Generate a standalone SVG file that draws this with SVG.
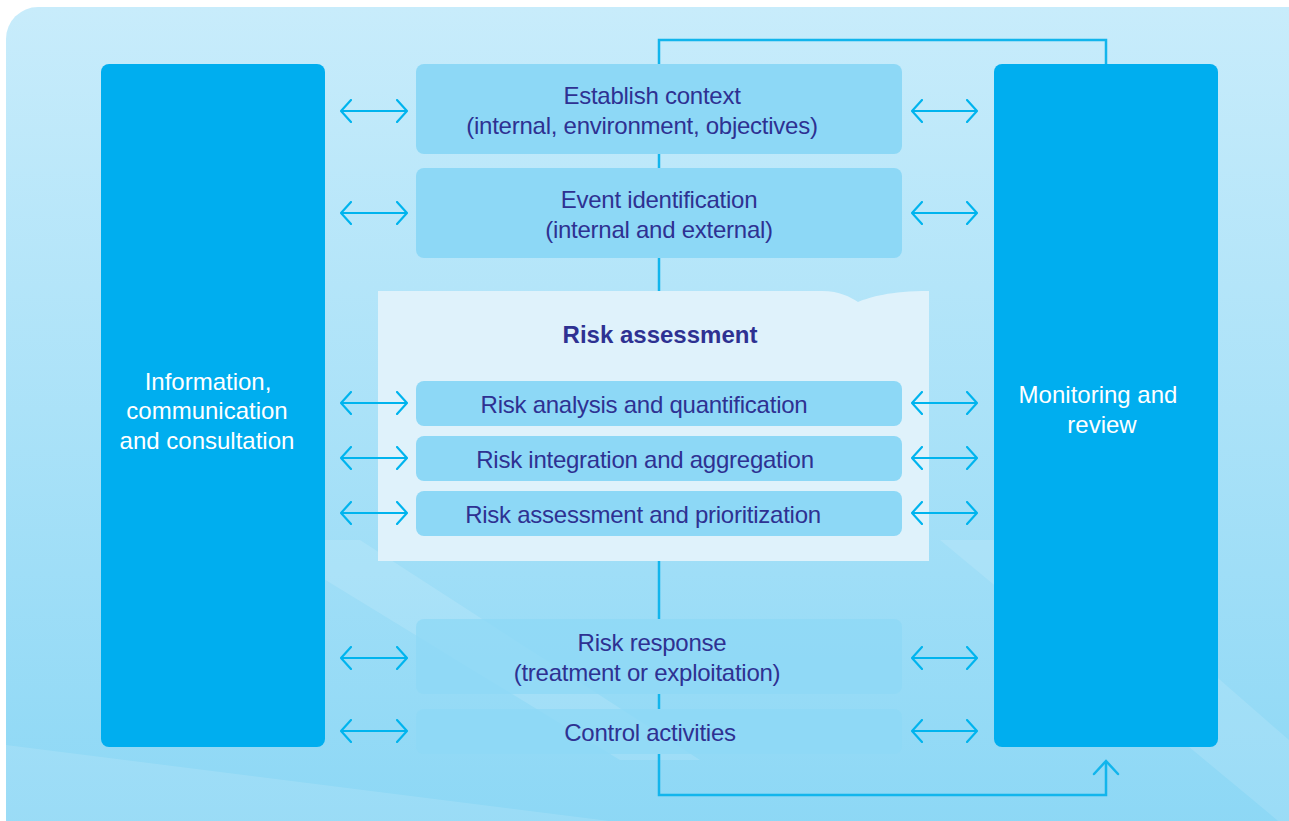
<svg xmlns="http://www.w3.org/2000/svg" width="1289" height="821" viewBox="0 0 1289 821">
<defs>
<linearGradient id="bg" x1="0" y1="0" x2="0" y2="1">
<stop offset="0" stop-color="#c8ecfb"/>
<stop offset="1" stop-color="#8bd7f5"/>
</linearGradient>
<marker id="ah" viewBox="0 0 12 24" refX="11" refY="12" markerWidth="12" markerHeight="24" markerUnits="userSpaceOnUse" orient="auto-start-reverse">
<path d="M1,1 L11,12 L1,23" fill="none" stroke="#00b4ee" stroke-width="2.2" stroke-linecap="round"/>
</marker>
<style>
.side{fill:#00aeef}
.step{fill:#8dd8f6}
.stepl{fill:#8dd8f6;opacity:0.75}
.t{font-family:"Liberation Sans",Arial,sans-serif;font-size:24px;fill:#2e3192;text-anchor:middle;letter-spacing:-0.25px}
.w{font-family:"Liberation Sans",Arial,sans-serif;font-size:24px;fill:#ffffff;text-anchor:middle;letter-spacing:0px}
.b{font-weight:bold;letter-spacing:0px}
.arr{stroke:#00b4ee;stroke-width:2.2;fill:none;marker-start:url(#ah);marker-end:url(#ah)}
.ln{stroke:#12b5ec;stroke-width:2.5;fill:none}
</style>
</defs>
<rect x="0" y="0" width="1289" height="821" fill="#ffffff"/>
<rect x="6" y="7" width="1313" height="844" rx="32" fill="url(#bg)"/>
<g opacity="0.12" fill="#ffffff">
<polygon points="6,745 6,840 760,840"/>
<polygon points="940,540 1289,830 1289,740 1060,540"/>
<polygon points="260,540 620,760 700,760 360,540"/>
</g>
<g id="info">
<rect class="side" x="101" y="64" width="224" height="683" rx="8"/>
<text class="w" x="208" y="390">Information,</text>
<text class="w" x="207" y="419">communication</text>
<text class="w" x="207" y="449">and consultation</text>
</g>
<g id="monitor">
<rect class="side" x="994" y="64" width="224" height="683" rx="8"/>
<text class="w" x="1098" y="403">Monitoring and</text>
<text class="w" x="1102" y="433">review</text>
</g>
<g id="context">
<rect class="step" x="416" y="64" width="486" height="90" rx="8"/>
<text class="t" x="652" y="104">Establish context</text>
<text class="t" x="642" y="134">(internal, environment, objectives)</text>
</g>
<g id="event">
<rect class="step" x="416" y="168" width="486" height="90" rx="8"/>
<text class="t" x="659" y="208">Event identification</text>
<text class="t" x="659" y="238">(internal and external)</text>
</g>
<g id="riskassessment">
<path d="M378,291 L822,291 C840,291 850,297 858,302 C870,297 890,291 929,291 L929,561 L378,561 Z" fill="#dff2fb"/>
<text class="t b" x="660" y="343">Risk assessment</text>
</g>
<g id="analysis">
<rect class="step" x="416" y="381" width="486" height="45" rx="8"/>
<text class="t" x="644" y="413">Risk analysis and quantification</text>
</g>
<g id="integration">
<rect class="step" x="416" y="436" width="486" height="45" rx="8"/>
<text class="t" x="645" y="468">Risk integration and aggregation</text>
</g>
<g id="prioritization">
<rect class="step" x="416" y="491" width="486" height="45" rx="8"/>
<text class="t" x="643" y="523">Risk assessment and prioritization</text>
</g>
<g id="response">
<rect class="stepl" x="416" y="619" width="486" height="75" rx="8"/>
<text class="t" x="652" y="651">Risk response</text>
<text class="t" x="647" y="681">(treatment or exploitation)</text>
</g>
<g id="control">
<rect class="stepl" x="416" y="709" width="486" height="45" rx="8"/>
<text class="t" x="650" y="741">Control activities</text>
</g>
<g id="connectors">
<polyline class="ln" points="659,64 659,40 1106,40 1106,64"/>
<line class="ln" x1="659" y1="154" x2="659" y2="168"/>
<line class="ln" x1="659" y1="258" x2="659" y2="291"/>
<line class="ln" x1="659" y1="561" x2="659" y2="619"/>
<line class="ln" x1="659" y1="694" x2="659" y2="709"/>
<polyline class="ln" points="659,754 659,795 1106,795 1106,762"/>
<path d="M1094,774 L1106,761 L1118,774" fill="none" stroke="#12b5ec" stroke-width="2.5" stroke-linecap="round"/>
<line class="arr" x1="341" y1="111" x2="407" y2="111"/>
<line class="arr" x1="341" y1="213" x2="407" y2="213"/>
<line class="arr" x1="341" y1="403" x2="407" y2="403"/>
<line class="arr" x1="341" y1="458" x2="407" y2="458"/>
<line class="arr" x1="341" y1="513" x2="407" y2="513"/>
<line class="arr" x1="341" y1="658" x2="407" y2="658"/>
<line class="arr" x1="341" y1="731" x2="407" y2="731"/>
<line class="arr" x1="912" y1="111" x2="977" y2="111"/>
<line class="arr" x1="912" y1="213" x2="977" y2="213"/>
<line class="arr" x1="912" y1="403" x2="977" y2="403"/>
<line class="arr" x1="912" y1="458" x2="977" y2="458"/>
<line class="arr" x1="912" y1="513" x2="977" y2="513"/>
<line class="arr" x1="912" y1="658" x2="977" y2="658"/>
<line class="arr" x1="912" y1="731" x2="977" y2="731"/>
</g>
</svg>
